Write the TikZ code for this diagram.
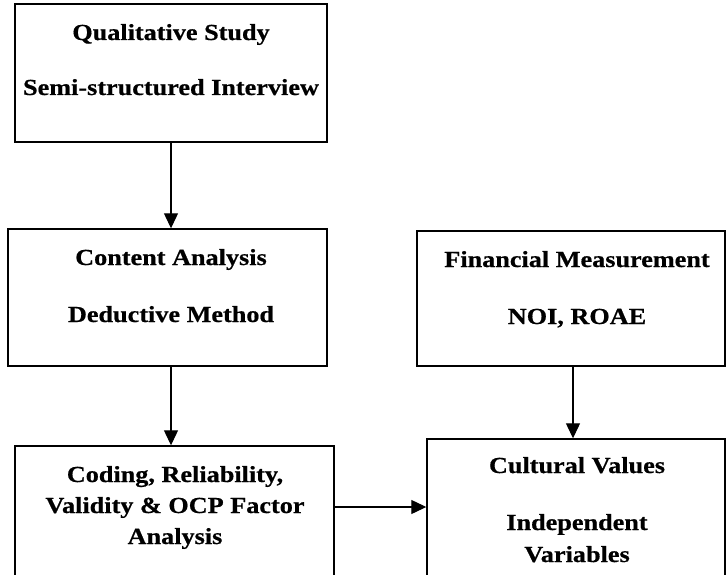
\documentclass[tikz,border=0pt]{standalone}
\usepackage{fontspec}
\usetikzlibrary{arrows.meta}
\newfontfamily\boxfont{Liberation Serif}[FakeStretch=1.14,FakeBold=0.6]

\begin{document}
\begin{tikzpicture}[x=1pt,y=-1pt,>={Triangle[length=15pt,width=14pt]},line cap=round,
  box/.style={draw,line width=1.4pt,inner sep=0pt},
  txt/.style={anchor=base,inner sep=0pt,font=\boxfont\bfseries\fontsize{23}{27}\selectfont}]
\useasboundingbox (0,0) rectangle (726,575);
\clip (0,0) rectangle (726,575);
% boxes
\node[box,minimum width=312pt,minimum height=138pt] (qual) at (171,73) {};
\node[box,minimum width=319pt,minimum height=137pt] (content) at (167.5,297.5) {};
\node[box,minimum width=319pt,minimum height=164pt] (coding) at (174.5,528) {};
\node[box,minimum width=308pt,minimum height=135pt] (fin) at (571,298.5) {};
\node[box,minimum width=298pt,minimum height=171pt] (cult) at (576,524.5) {};
% texts
\node[txt] (qualA) at (171,40) {Qualitative Study};
\node[txt] (qualB) at (171,95) {Semi-structured Interview};
\node[txt] (contentA) at (171,265) {Content Analysis};
\node[txt] (contentB) at (171,322) {Deductive Method};
\node[txt] (codingA) at (175,482) {Coding, Reliability,};
\node[txt] (codingB) at (175,513) {Validity \& OCP Factor};
\node[txt] (codingC) at (175,544) {Analysis};
\node[txt] (finA) at (577,267) {Financial Measurement};
\node[txt] (finB) at (577,324) {NOI, ROAE};
\node[txt] (cultA) at (577,473) {Cultural Values};
\node[txt] (cultB) at (577,530) {Independent};
\node[txt] (cultC) at (577,562) {Variables};
% arrows
\draw[->,line width=1.2pt] (qual.south) -- (qual.south |- content.north);
\draw[->,line width=1.2pt] (qual.south |- content.south) -- (qual.south |- coding.north);
\draw[->,line width=1.2pt] ([xshift=2pt]fin.south) -- ([xshift=2pt]fin.south |- cult.north);
\draw[->,line width=1.2pt] ([yshift=21pt]coding.east) -- ([yshift=21pt]coding.east -| cult.west);
\end{tikzpicture}
\end{document}
